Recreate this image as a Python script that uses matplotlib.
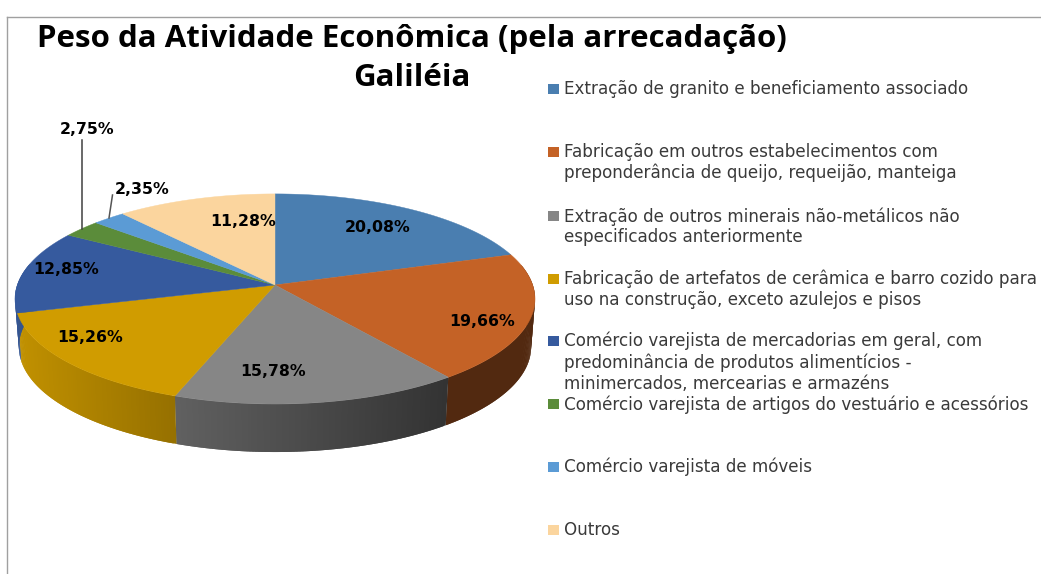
import numpy as np
import matplotlib
matplotlib.use("Agg")
import matplotlib.pyplot as plt
from matplotlib.patches import Rectangle

title_lines = ["Peso da Atividade Econômica (pela arrecadação)", "Galiléia"]
categories = [
    "Extração de granito e beneficiamento associado",
    "Fabricação em outros estabelecimentos com\npreponderância de queijo, requeijão, manteiga",
    "Extração de outros minerais não-metálicos não\nespecificados anteriormente",
    "Fabricação de artefatos de cerâmica e barro cozido para\nuso na construção, exceto azulejos e pisos",
    "Comércio varejista de mercadorias em geral, com\npredominância de produtos alimentícios -\nminimercados, mercearias e armazéns",
    "Comércio varejista de artigos do vestuário e acessórios",
    "Comércio varejista de móveis",
    "Outros",
]
values = [20.08, 19.66, 15.78, 15.26, 12.85, 2.75, 2.35, 11.28]
value_labels = ["20,08%", "19,66%", "15,78%", "15,26%", "12,85%", "2,75%", "2,35%", "11,28%"]
colors = ["#4A7EB0", "#C46226", "#868686", "#D09C00", "#365A9E", "#5B8C3A", "#5B9BD5", "#FBD59E"]
label_pos = [(378, 227), (482, 322), (273, 371), (90, 337), (66, 269), (87, 129), (142, 189), (243, 222)]
legend_y = [89, 152, 216, 279, 341, 404, 467, 530]

W, H = 1041, 574
fig = plt.figure(figsize=(W / 100, H / 100), dpi=100)
ax = fig.add_axes([0, 0, 1, 1])
ax.set_xlim(0, W)
ax.set_ylim(H, 0)
ax.axis("off")

# projected disc
CX, CY, A, B, K = 275, 285, 257.7, 103.2, 0.133
DEPTH, SHRINK = 48, 0.985


def project(theta):
    x, y = np.cos(theta), np.sin(theta)
    d = 1 + K * y
    return CX + A * x / d, CY - B * y / d


def shade(x):
    return np.interp(x, [15, 175, 448, 535], [0.93, 0.72, 0.38, 0.38])


edges = np.pi / 2 - 2 * np.pi * np.cumsum([0] + values) / sum(values)

# side wall (front half only), drawn as overlapping strips
for i, col in enumerate(colors):
    rgb = np.array(matplotlib.colors.to_rgb(col))
    ts = np.linspace(edges[i], edges[i + 1], max(3, int(values[i] * 6)))
    px, py = project(ts)
    for j in range(len(ts) - 1):
        if np.sin((ts[j] + ts[j + 1]) / 2) > 0.2:
            continue
        k = min(j + 2, len(ts) - 1)
        xs = np.r_[px[j:k + 1], CX + (px[j:k + 1][::-1] - CX) * SHRINK]
        ys = np.r_[py[j:k + 1], py[j:k + 1][::-1] + DEPTH]
        c = np.clip(rgb * shade((px[j] + px[j + 1]) / 2), 0, 1)
        if i == 1:
            c = rgb * 0.42
        ax.fill(xs, ys, color=c, lw=0, zorder=2)

# top face
for i, col in enumerate(colors):
    ts = np.linspace(edges[i], edges[i + 1], 120)
    px, py = project(ts)
    ax.fill(np.r_[CX, px], np.r_[CY, py], color=col, lw=0.3, zorder=3)

# value labels
for (x, y), s in zip(label_pos, value_labels):
    ax.text(x, y, s, ha="center", va="center", fontsize=11.3, fontweight="bold",
            family="DejaVu Sans", color="black", zorder=5)

# leader lines
ax.plot([82, 82], [140, 229], color="#404040", lw=1.1, zorder=4)
ax.plot([112.5, 109], [195, 218], color="#555555", lw=1.1, zorder=4)

# title
ax.text(411.5, 39, title_lines[0], ha="center", va="center", fontsize=22.5, fontweight="bold",
        family="Open Sans", color="black")
ax.text(411.5, 78, title_lines[1], ha="center", va="center", fontsize=22.5, fontweight="bold",
        family="Open Sans", color="black")

# legend
for y, s, col in zip(legend_y, categories, colors):
    ax.add_patch(Rectangle((548, y - 5), 11, 10, color=col, lw=0))
    ax.text(564, y - 9, s, ha="left", va="top", fontsize=12.1, family="DejaVu Sans",
            color="#3a3a3a", linespacing=1.2)

# frame
ax.plot([7, 7], [574, 16.5], color="#a0a0a0", lw=1.0)
ax.plot([7, 1041], [16.5, 16.5], color="#a0a0a0", lw=1.0)

fig.savefig("out.png", dpi=100)
